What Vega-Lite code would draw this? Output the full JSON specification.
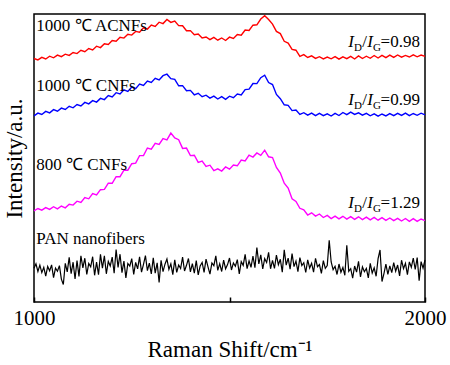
{
"$schema": "https://vega.github.io/schema/vega-lite/v6.json",
"width": 391, "height": 288,
"autosize": "none",
"padding": {"left": 34, "top": 14, "right": 25, "bottom": 63},
"background": "white",
"config": {"view": {"stroke": "black", "strokeWidth": 1.5}, "font": "Liberation Serif"},
"datasets": {
"red": [{"x":1000,"y":243.5},{"x":1010,"y":242.1},{"x":1020,"y":244.6},{"x":1030,"y":243.0},{"x":1040,"y":245.8},{"x":1050,"y":244.2},{"x":1060,"y":246.9},{"x":1070,"y":245.3},{"x":1080,"y":247.8},{"x":1090,"y":246.6},{"x":1100,"y":249.5},{"x":1110,"y":248.4},{"x":1120,"y":251.7},{"x":1130,"y":250.3},{"x":1140,"y":253.5},{"x":1150,"y":252.1},{"x":1160,"y":255.8},{"x":1170,"y":254.4},{"x":1180,"y":258.2},{"x":1190,"y":257.6},{"x":1200,"y":261.4},{"x":1210,"y":260.8},{"x":1220,"y":264.7},{"x":1230,"y":263.9},{"x":1240,"y":267.8},{"x":1250,"y":266.9},{"x":1260,"y":270.6},{"x":1270,"y":269.8},{"x":1280,"y":274.1},{"x":1290,"y":272.9},{"x":1300,"y":277.0},{"x":1310,"y":275.6},{"x":1320,"y":279.8},{"x":1330,"y":278.4},{"x":1340,"y":282.5},{"x":1350,"y":279.6},{"x":1360,"y":281.0},{"x":1370,"y":276.4},{"x":1380,"y":276.2},{"x":1390,"y":271.3},{"x":1400,"y":271.4},{"x":1410,"y":267.2},{"x":1420,"y":268.0},{"x":1430,"y":264.1},{"x":1440,"y":265.0},{"x":1450,"y":262.3},{"x":1460,"y":264.6},{"x":1470,"y":261.8},{"x":1480,"y":264.0},{"x":1490,"y":261.5},{"x":1500,"y":264.9},{"x":1510,"y":263.6},{"x":1520,"y":267.5},{"x":1530,"y":266.8},{"x":1540,"y":271.9},{"x":1550,"y":271.6},{"x":1560,"y":276.8},{"x":1570,"y":277.2},{"x":1580,"y":283.0},{"x":1590,"y":286.2},{"x":1600,"y":282.4},{"x":1610,"y":277.9},{"x":1620,"y":270.6},{"x":1630,"y":268.4},{"x":1640,"y":260.7},{"x":1650,"y":258.9},{"x":1660,"y":252.6},{"x":1670,"y":251.8},{"x":1680,"y":245.6},{"x":1690,"y":247.4},{"x":1700,"y":244.5},{"x":1710,"y":246.2},{"x":1720,"y":243.6},{"x":1730,"y":245.3},{"x":1740,"y":243.1},{"x":1750,"y":245.0},{"x":1760,"y":243.2},{"x":1770,"y":245.4},{"x":1780,"y":242.9},{"x":1790,"y":245.1},{"x":1800,"y":243.4},{"x":1810,"y":245.6},{"x":1820,"y":243.0},{"x":1830,"y":246.1},{"x":1840,"y":243.5},{"x":1850,"y":245.8},{"x":1860,"y":243.7},{"x":1870,"y":246.5},{"x":1880,"y":244.0},{"x":1890,"y":246.7},{"x":1900,"y":244.3},{"x":1910,"y":246.9},{"x":1920,"y":244.6},{"x":1930,"y":247.0},{"x":1940,"y":244.8},{"x":1950,"y":246.6},{"x":1960,"y":245.0},{"x":1970,"y":247.1},{"x":1980,"y":245.2},{"x":1990,"y":246.9},{"x":2000,"y":245.6}],
"blue": [{"x":1000,"y":186.2},{"x":1010,"y":188.9},{"x":1020,"y":187.5},{"x":1030,"y":190.6},{"x":1040,"y":189.1},{"x":1050,"y":192.4},{"x":1060,"y":190.8},{"x":1070,"y":193.9},{"x":1080,"y":192.5},{"x":1090,"y":195.7},{"x":1100,"y":194.2},{"x":1110,"y":197.5},{"x":1120,"y":196.0},{"x":1130,"y":199.6},{"x":1140,"y":198.1},{"x":1150,"y":201.4},{"x":1160,"y":199.9},{"x":1170,"y":203.6},{"x":1180,"y":202.4},{"x":1190,"y":206.5},{"x":1200,"y":205.0},{"x":1210,"y":209.3},{"x":1220,"y":208.1},{"x":1230,"y":212.2},{"x":1240,"y":210.6},{"x":1250,"y":215.0},{"x":1260,"y":213.4},{"x":1270,"y":217.9},{"x":1280,"y":216.5},{"x":1290,"y":221.0},{"x":1300,"y":219.6},{"x":1310,"y":223.7},{"x":1320,"y":222.0},{"x":1330,"y":226.3},{"x":1340,"y":227.8},{"x":1350,"y":223.4},{"x":1360,"y":222.6},{"x":1370,"y":216.2},{"x":1380,"y":216.4},{"x":1390,"y":211.3},{"x":1400,"y":211.6},{"x":1410,"y":207.2},{"x":1420,"y":208.7},{"x":1430,"y":205.3},{"x":1440,"y":206.8},{"x":1450,"y":203.9},{"x":1460,"y":205.9},{"x":1470,"y":203.0},{"x":1480,"y":205.4},{"x":1490,"y":202.6},{"x":1500,"y":205.8},{"x":1510,"y":204.3},{"x":1520,"y":207.9},{"x":1530,"y":207.0},{"x":1540,"y":212.4},{"x":1550,"y":212.8},{"x":1560,"y":218.5},{"x":1570,"y":218.4},{"x":1580,"y":224.3},{"x":1590,"y":226.8},{"x":1600,"y":219.5},{"x":1610,"y":217.4},{"x":1620,"y":207.6},{"x":1630,"y":203.3},{"x":1640,"y":197.2},{"x":1650,"y":196.6},{"x":1660,"y":191.4},{"x":1670,"y":191.9},{"x":1680,"y":187.6},{"x":1690,"y":189.3},{"x":1700,"y":186.8},{"x":1710,"y":188.9},{"x":1720,"y":186.4},{"x":1730,"y":188.6},{"x":1740,"y":186.3},{"x":1750,"y":188.2},{"x":1760,"y":186.0},{"x":1770,"y":188.7},{"x":1780,"y":186.5},{"x":1790,"y":189.5},{"x":1800,"y":187.3},{"x":1810,"y":189.9},{"x":1820,"y":187.6},{"x":1830,"y":189.2},{"x":1840,"y":186.8},{"x":1850,"y":188.6},{"x":1860,"y":186.2},{"x":1870,"y":188.1},{"x":1880,"y":185.9},{"x":1890,"y":188.0},{"x":1900,"y":186.1},{"x":1910,"y":188.4},{"x":1920,"y":186.3},{"x":1930,"y":188.7},{"x":1940,"y":186.6},{"x":1950,"y":188.9},{"x":1960,"y":186.4},{"x":1970,"y":188.5},{"x":1980,"y":186.7},{"x":1990,"y":188.8},{"x":2000,"y":187.2}],
"magenta": [{"x":1000,"y":91.2},{"x":1010,"y":93.5},{"x":1020,"y":91.8},{"x":1030,"y":94.4},{"x":1040,"y":92.6},{"x":1050,"y":95.3},{"x":1060,"y":93.1},{"x":1070,"y":96.0},{"x":1080,"y":94.2},{"x":1090,"y":97.8},{"x":1100,"y":96.9},{"x":1110,"y":100.8},{"x":1120,"y":99.6},{"x":1130,"y":104.5},{"x":1140,"y":103.2},{"x":1150,"y":108.4},{"x":1160,"y":107.1},{"x":1170,"y":112.3},{"x":1180,"y":112.6},{"x":1190,"y":118.9},{"x":1200,"y":118.7},{"x":1210,"y":125.4},{"x":1220,"y":125.3},{"x":1230,"y":131.9},{"x":1240,"y":131.8},{"x":1250,"y":138.3},{"x":1260,"y":138.9},{"x":1270,"y":146.4},{"x":1280,"y":146.5},{"x":1290,"y":154.0},{"x":1300,"y":152.8},{"x":1310,"y":158.6},{"x":1320,"y":157.5},{"x":1330,"y":163.4},{"x":1340,"y":162.2},{"x":1350,"y":168.9},{"x":1360,"y":164.0},{"x":1370,"y":162.3},{"x":1380,"y":153.6},{"x":1390,"y":153.9},{"x":1400,"y":146.4},{"x":1410,"y":146.8},{"x":1420,"y":139.7},{"x":1430,"y":140.9},{"x":1440,"y":135.6},{"x":1450,"y":136.8},{"x":1460,"y":131.4},{"x":1470,"y":133.2},{"x":1480,"y":130.9},{"x":1490,"y":135.1},{"x":1500,"y":132.8},{"x":1510,"y":137.0},{"x":1520,"y":136.2},{"x":1530,"y":142.0},{"x":1540,"y":141.1},{"x":1550,"y":146.8},{"x":1560,"y":144.9},{"x":1570,"y":149.1},{"x":1580,"y":146.6},{"x":1590,"y":151.8},{"x":1600,"y":145.2},{"x":1610,"y":144.4},{"x":1620,"y":134.6},{"x":1630,"y":128.9},{"x":1640,"y":118.8},{"x":1650,"y":114.0},{"x":1660,"y":103.2},{"x":1670,"y":100.6},{"x":1680,"y":93.7},{"x":1690,"y":92.1},{"x":1700,"y":87.0},{"x":1710,"y":89.2},{"x":1720,"y":85.9},{"x":1730,"y":88.0},{"x":1740,"y":84.5},{"x":1750,"y":86.6},{"x":1760,"y":83.4},{"x":1770,"y":85.9},{"x":1780,"y":83.2},{"x":1790,"y":85.7},{"x":1800,"y":82.9},{"x":1810,"y":85.4},{"x":1820,"y":82.6},{"x":1830,"y":85.2},{"x":1840,"y":82.4},{"x":1850,"y":84.9},{"x":1860,"y":82.1},{"x":1870,"y":84.6},{"x":1880,"y":81.8},{"x":1890,"y":84.3},{"x":1900,"y":81.6},{"x":1910,"y":84.0},{"x":1920,"y":81.3},{"x":1930,"y":83.7},{"x":1940,"y":81.0},{"x":1950,"y":83.5},{"x":1960,"y":80.7},{"x":1970,"y":83.3},{"x":1980,"y":80.6},{"x":1990,"y":83.0},{"x":2000,"y":81.4}],
"pan": [{"x":1000,"y":33.8},{"x":1005,"y":38.2},{"x":1010,"y":30.5},{"x":1015,"y":36.9},{"x":1020,"y":29.4},{"x":1025,"y":34.7},{"x":1030,"y":25.8},{"x":1035,"y":35.6},{"x":1040,"y":31.2},{"x":1045,"y":37.1},{"x":1050,"y":24.3},{"x":1055,"y":33.9},{"x":1060,"y":30.8},{"x":1065,"y":36.4},{"x":1070,"y":22.9},{"x":1075,"y":17.5},{"x":1080,"y":38.7},{"x":1085,"y":30.1},{"x":1090,"y":44.6},{"x":1095,"y":28.3},{"x":1100,"y":39.8},{"x":1105,"y":23.0},{"x":1110,"y":41.5},{"x":1115,"y":25.6},{"x":1120,"y":46.2},{"x":1125,"y":34.1},{"x":1130,"y":43.8},{"x":1135,"y":27.5},{"x":1140,"y":38.6},{"x":1145,"y":35.2},{"x":1150,"y":45.3},{"x":1155,"y":26.7},{"x":1160,"y":39.9},{"x":1165,"y":27.4},{"x":1170,"y":47.6},{"x":1175,"y":33.8},{"x":1180,"y":46.1},{"x":1185,"y":28.2},{"x":1190,"y":40.5},{"x":1195,"y":36.0},{"x":1200,"y":44.9},{"x":1205,"y":28.7},{"x":1210,"y":52.4},{"x":1215,"y":34.6},{"x":1220,"y":47.8},{"x":1225,"y":29.3},{"x":1230,"y":41.0},{"x":1235,"y":24.1},{"x":1240,"y":38.5},{"x":1245,"y":35.9},{"x":1250,"y":43.4},{"x":1255,"y":27.6},{"x":1260,"y":39.7},{"x":1265,"y":33.1},{"x":1270,"y":45.2},{"x":1275,"y":29.8},{"x":1280,"y":37.6},{"x":1285,"y":46.3},{"x":1290,"y":31.4},{"x":1295,"y":38.9},{"x":1300,"y":28.0},{"x":1305,"y":44.1},{"x":1310,"y":28.9},{"x":1315,"y":39.2},{"x":1320,"y":19.5},{"x":1325,"y":41.7},{"x":1330,"y":30.3},{"x":1335,"y":37.8},{"x":1340,"y":43.0},{"x":1345,"y":32.6},{"x":1350,"y":38.1},{"x":1355,"y":27.4},{"x":1360,"y":42.2},{"x":1365,"y":29.6},{"x":1370,"y":37.0},{"x":1375,"y":33.5},{"x":1380,"y":44.8},{"x":1385,"y":31.0},{"x":1390,"y":36.7},{"x":1395,"y":43.5},{"x":1400,"y":30.2},{"x":1405,"y":38.4},{"x":1410,"y":28.8},{"x":1415,"y":41.3},{"x":1420,"y":27.2},{"x":1425,"y":36.1},{"x":1430,"y":39.6},{"x":1435,"y":29.7},{"x":1440,"y":42.8},{"x":1445,"y":35.1},{"x":1450,"y":27.9},{"x":1455,"y":39.0},{"x":1460,"y":36.3},{"x":1465,"y":46.1},{"x":1470,"y":31.6},{"x":1475,"y":38.3},{"x":1480,"y":30.5},{"x":1485,"y":41.9},{"x":1490,"y":33.2},{"x":1495,"y":37.4},{"x":1500,"y":44.0},{"x":1505,"y":32.0},{"x":1510,"y":39.1},{"x":1515,"y":35.8},{"x":1520,"y":42.4},{"x":1525,"y":28.0},{"x":1530,"y":40.3},{"x":1535,"y":36.6},{"x":1540,"y":47.7},{"x":1545,"y":33.4},{"x":1550,"y":41.1},{"x":1555,"y":34.7},{"x":1560,"y":46.0},{"x":1565,"y":34.3},{"x":1570,"y":54.5},{"x":1575,"y":38.0},{"x":1580,"y":47.2},{"x":1585,"y":33.0},{"x":1590,"y":43.3},{"x":1595,"y":39.5},{"x":1600,"y":49.6},{"x":1605,"y":33.2},{"x":1610,"y":41.6},{"x":1615,"y":33.7},{"x":1620,"y":46.8},{"x":1625,"y":37.3},{"x":1630,"y":42.7},{"x":1635,"y":29.9},{"x":1640,"y":52.1},{"x":1645,"y":36.8},{"x":1650,"y":43.9},{"x":1655,"y":32.9},{"x":1660,"y":48.4},{"x":1665,"y":35.4},{"x":1670,"y":40.9},{"x":1675,"y":30.4},{"x":1680,"y":44.3},{"x":1685,"y":36.5},{"x":1690,"y":39.3},{"x":1695,"y":29.5},{"x":1700,"y":42.1},{"x":1705,"y":34.0},{"x":1710,"y":38.8},{"x":1715,"y":29.9},{"x":1720,"y":43.6},{"x":1725,"y":35.3},{"x":1730,"y":37.5},{"x":1735,"y":28.6},{"x":1740,"y":41.4},{"x":1745,"y":33.6},{"x":1750,"y":36.4},{"x":1755,"y":61.8},{"x":1760,"y":40.0},{"x":1765,"y":32.4},{"x":1770,"y":35.7},{"x":1775,"y":27.5},{"x":1780,"y":38.0},{"x":1785,"y":29.8},{"x":1790,"y":34.6},{"x":1795,"y":26.7},{"x":1800,"y":56.8},{"x":1805,"y":30.7},{"x":1810,"y":33.3},{"x":1815,"y":23.8},{"x":1820,"y":36.0},{"x":1825,"y":29.9},{"x":1830,"y":40.7},{"x":1835,"y":25.0},{"x":1840,"y":35.1},{"x":1845,"y":30.3},{"x":1850,"y":33.6},{"x":1855,"y":24.1},{"x":1860,"y":38.7},{"x":1865,"y":29.0},{"x":1870,"y":34.2},{"x":1875,"y":25.7},{"x":1880,"y":43.4},{"x":1885,"y":52.0},{"x":1890,"y":20.5},{"x":1895,"y":28.4},{"x":1900,"y":37.9},{"x":1905,"y":27.7},{"x":1910,"y":36.2},{"x":1915,"y":29.3},{"x":1920,"y":39.4},{"x":1925,"y":30.8},{"x":1930,"y":37.0},{"x":1935,"y":26.1},{"x":1940,"y":41.8},{"x":1945,"y":33.3},{"x":1950,"y":38.6},{"x":1955,"y":27.4},{"x":1960,"y":40.1},{"x":1965,"y":34.7},{"x":1970,"y":44.0},{"x":1975,"y":32.5},{"x":1980,"y":44.5},{"x":1985,"y":21.2},{"x":1990,"y":40.4},{"x":1995,"y":33.9},{"x":2000,"y":42.0}],
"labels": [{"x":1006,"y":271,"t":"1000 ℃ ACNFs"},{"x":1006,"y":211,"t":"1000 ℃ CNFs"},{"x":1006,"y":132,"t":"800 ℃ CNFs"},{"x":1006,"y":58,"t":"PAN nanofibers"}],
"ratios": [{"x":1987,"y":255,"r":"=0.98"},{"x":1987,"y":197,"r":"=0.99"},{"x":1987,"y":94,"r":"=1.29"}]
},
"encoding": {
  "x": {"field": "x", "type": "quantitative", "scale": {"domain": [1000, 2000], "nice": false, "zero": false},
        "axis": {"title": "Raman Shift/cm⁻¹", "values": [1000, 1500, 2000], "format": "d", "labelExpr": "datum.value == 1500 ? '' : datum.label", "domain": false, "grid": false, "tickSize": -5, "tickColor": "black", "tickWidth": 1.5, "labelFontSize": 21, "labelColor": "black", "labelFlush": false, "labelPadding": 10, "titleFontSize": 23, "titleFontWeight": "normal", "titleColor": "black", "titlePadding": 10}},
  "y": {"field": "y", "type": "quantitative", "scale": {"domain": [0, 288], "nice": false, "zero": false},
        "axis": {"title": "Intensity/a.u.", "labels": false, "ticks": false, "domain": false, "grid": false, "titleFontSize": 23, "titleFontWeight": "normal", "titleColor": "black", "titlePadding": 8}}
},
"layer": [
  {"data": {"name": "pan"}, "mark": {"type": "line", "color": "black", "strokeWidth": 1.2}, "encoding": {}},
  {"data": {"name": "magenta"}, "mark": {"type": "line", "color": "#ff00ff", "strokeWidth": 1.4}, "encoding": {}},
  {"data": {"name": "blue"}, "mark": {"type": "line", "color": "#0000ff", "strokeWidth": 1.4}, "encoding": {}},
  {"data": {"name": "red"}, "mark": {"type": "line", "color": "#ff0000", "strokeWidth": 1.4}, "encoding": {}},
  {"data": {"name": "labels"}, "mark": {"type": "text", "align": "left", "baseline": "alphabetic", "fontSize": 17, "color": "black"}, "encoding": {"text": {"field": "t"}}},
  {"data": {"name": "ratios"}, "mark": {"type": "text", "align": "right", "baseline": "alphabetic", "fontSize": 17, "color": "black"}, "encoding": {"text": {"field": "r"}}},
  {"data": {"name": "ratios"}, "mark": {"type": "text", "text": "G", "align": "right", "baseline": "alphabetic", "fontSize": 11, "dx": -39, "dy": 4, "color": "black"}, "encoding": {}},
  {"data": {"name": "ratios"}, "mark": {"type": "text", "text": "I", "align": "right", "baseline": "alphabetic", "fontSize": 17, "fontStyle": "italic", "dx": -47, "color": "black"}, "encoding": {}},
  {"data": {"name": "ratios"}, "mark": {"type": "text", "text": "/", "align": "right", "baseline": "alphabetic", "fontSize": 17, "dx": -53, "color": "black"}, "encoding": {}},
  {"data": {"name": "ratios"}, "mark": {"type": "text", "text": "D", "align": "right", "baseline": "alphabetic", "fontSize": 11, "dx": -58, "dy": 4, "color": "black"}, "encoding": {}},
  {"data": {"name": "ratios"}, "mark": {"type": "text", "text": "I", "align": "right", "baseline": "alphabetic", "fontSize": 17, "fontStyle": "italic", "dx": -66, "color": "black"}, "encoding": {}}
]
}
